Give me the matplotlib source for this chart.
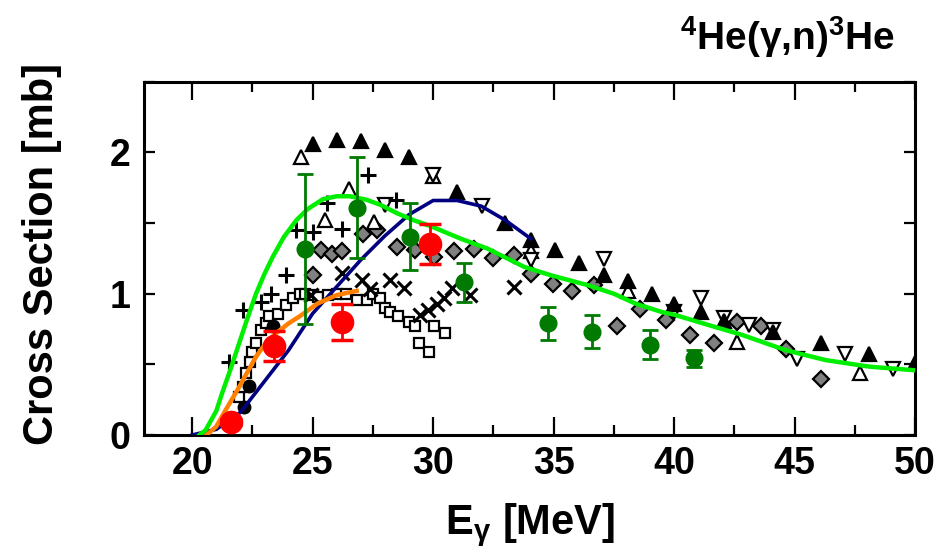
import matplotlib
matplotlib.use("Agg")
import matplotlib.pyplot as plt
import numpy as np
from matplotlib.ticker import MultipleLocator

plt.rcParams['font.family'] = ['Liberation Sans', 'DejaVu Sans']
plt.rcParams['font.weight'] = 'bold'
plt.rcParams['mathtext.fontset'] = 'custom'
plt.rcParams['mathtext.rm'] = 'Liberation Sans:bold'
plt.rcParams['mathtext.bf'] = 'Liberation Sans:bold'
plt.rcParams['mathtext.it'] = 'Liberation Sans:bold'

# filled up triangles
tri_f_x = [25, 26, 27, 28, 29, 31, 33, 34.05, 35.05, 36.05, 37.1, 38.1, 39.1, 40.0, 41.1, 42.06, 44.1, 46.1, 48.1, 50.0]
tri_f_y = [2.06, 2.09, 2.08, 2.02, 1.97, 1.72, 1.50, 1.38, 1.31, 1.22, 1.13, 1.09, 1.00, 0.93, 0.87, 0.81, 0.73, 0.65, 0.57, 0.51]

# open up triangles
tri_o_x = [24.5, 25.5, 26.5, 27.55, 30.0, 34.05, 38.1, 42.6, 47.7]
tri_o_y = [1.97, 1.52, 1.74, 1.51, 1.83, 1.30, 1.02, 0.66, 0.44]

# open down triangles
tri_d_x = [28.0, 30.0, 32.04, 34.05, 37.1, 40.0, 41.1, 42.06, 43.1, 44.1, 45.1, 47.1, 49.1]
tri_d_y = [1.63, 1.84, 1.62, 1.24, 1.245, 0.87, 0.97, 0.825, 0.78, 0.74, 0.54, 0.57, 0.47]

# gray diamonds
dia_x = [25.0, 25.36, 25.8, 26.2, 27.1, 27.66, 28.5, 29.26, 30.05, 30.86, 31.7, 32.5, 33.34, 34.05,
         34.96, 35.76, 36.68, 37.65, 38.6, 39.65, 40.67, 41.64, 42.6, 43.6, 44.64, 46.1]
dia_y = [1.13, 1.31, 1.28, 1.30, 1.42, 1.45, 1.33, 1.31, 1.26, 1.30, 1.32, 1.25, 1.275, 1.14,
         1.07, 1.02, 1.06, 0.77, 0.89, 0.815, 0.71, 0.65, 0.80, 0.77, 0.61, 0.395]

# open squares
sq_x = [21.95, 22.09, 22.23, 22.4, 22.5, 22.65, 22.86, 23.05, 23.2, 23.55, 23.9, 24.18, 24.46, 24.67,
        25.0, 25.22, 25.64, 26.0, 26.4, 26.83, 27.24, 27.5, 27.8, 28.0, 28.2, 28.56, 28.98, 29.26,
        29.4, 29.82, 30.03, 30.5]
sq_y = [0.27, 0.34, 0.44, 0.52, 0.59, 0.65, 0.74, 0.79, 0.84, 0.86, 0.92, 0.97, 1.00, 1.00,
        0.99, 0.98, 0.99, 1.00, 1.00, 0.955, 0.955, 1.00, 0.97, 0.90, 0.87, 0.84, 0.80, 0.77,
        0.65, 0.59, 0.77, 0.72]

# plus markers
plus_x = [21.54, 22.09, 22.86, 23.27, 23.9, 24.32, 25.0, 25.6, 26.2, 27.31, 28.47]
plus_y = [0.52, 0.886, 0.945, 1.00, 1.13, 1.45, 1.44, 1.64, 1.46, 1.84, 1.665]

# cross markers
cross_x = [24.94, 26.2, 27.03, 27.38, 28.2, 28.78, 29.45, 29.8, 30.17, 30.44, 30.79, 31.55, 33.36]
cross_y = [0.99, 1.146, 1.10, 1.03, 1.10, 1.04, 0.85, 0.886, 0.93, 0.97, 1.04, 0.99, 1.05]

# small black dots
dot_x = [22.17, 22.35, 23.35]
dot_y = [0.20, 0.35, 0.77]

# green data with errors
grn_x = [24.67, 26.83, 29.02, 31.28, 34.76, 36.6, 39.0, 40.83]
grn_y = [1.316, 1.61, 1.405, 1.08, 0.79, 0.73, 0.64, 0.544]
grn_e = [0.53, 0.36, 0.24, 0.135, 0.115, 0.117, 0.10, 0.06]

# red data with errors
red_x = [21.6, 23.38, 26.23, 29.88]
red_y = [0.094, 0.63, 0.80, 1.354]
red_e = [0.02, 0.105, 0.125, 0.14]

# calculations
navy_x = [20, 21, 22, 23, 24, 25, 26, 27, 28, 29, 30, 31, 32, 33, 34.05]
navy_y = [0.0, 0.04, 0.16, 0.38, 0.60, 0.86, 1.05, 1.24, 1.41, 1.56, 1.66, 1.66, 1.62, 1.52, 1.39]

lime_x = [20.3, 20.56, 21.0, 21.25, 21.6, 21.95, 22.3, 22.65, 23.0, 23.34, 23.8, 24.32, 24.8, 25.43,
          26.0, 26.54, 27.24, 27.8, 28.5, 29.2, 29.95, 31.14, 32.25, 33.78, 34.9, 36.43, 37.5,
          38.4, 39.5, 40.04, 41.4, 42.8, 44.64, 46.3, 48.1, 50.0]
lime_y = [0.0, 0.035, 0.17, 0.30, 0.47, 0.65, 0.83, 1.0, 1.14, 1.26, 1.40, 1.52, 1.60, 1.67,
          1.69, 1.69, 1.665, 1.63, 1.57, 1.52, 1.475, 1.39, 1.32, 1.19, 1.13, 1.06, 1.0,
          0.93, 0.87, 0.85, 0.78, 0.71, 0.60, 0.53, 0.484, 0.458]

orange_x = [20.6, 21.0, 21.4, 21.95, 22.65, 23.1, 23.48, 24.0, 24.46, 25.2, 25.99, 26.83]
orange_y = [0.0, 0.06, 0.18, 0.34, 0.555, 0.66, 0.72, 0.79, 0.84, 0.93, 0.99, 1.02]

fig = plt.figure(figsize=(9.43, 5.53), dpi=100)
ax = fig.add_axes([0.1527, 0.2134, 0.8176, 0.6386])

mk = dict(linestyle='none', markeredgecolor='black', markeredgewidth=1.6)
ax.plot(sq_x, sq_y, marker='s', markersize=7.5, markerfacecolor='white', zorder=2, **mk)
ax.plot(dia_x, dia_y, marker='D', markersize=8, markerfacecolor='#808080', zorder=2, **mk)
ax.plot(tri_o_x, tri_o_y, marker='^', markersize=10, markerfacecolor='white', zorder=2, **mk)
ax.plot(tri_d_x, tri_d_y, marker='v', markersize=10, markerfacecolor='white', zorder=2, **mk)
ax.plot(tri_f_x, tri_f_y, marker='^', markersize=10, markerfacecolor='black', zorder=2, **mk)
ax.plot(plus_x, plus_y, marker='+', markersize=11, markeredgewidth=2.2, color='black',
        linestyle='none', zorder=2)
ax.plot(cross_x, cross_y, marker='x', markersize=10.5, markeredgewidth=2.2, color='black',
        linestyle='none', zorder=2)
ax.plot(dot_x, dot_y, marker='o', markersize=9, color='black', linestyle='none', zorder=2)

ax.plot(navy_x, navy_y, color='#000080', lw=2.6, zorder=3)
ax.plot(lime_x, lime_y, color='#00ee00', lw=3.2, zorder=3)
ax.plot(orange_x, orange_y, color='#ff8000', lw=3.2, zorder=3)

ax.errorbar(grn_x, grn_y, yerr=grn_e, fmt='o', color='#007a00', markersize=12,
            elinewidth=2, capsize=6, capthick=2, zorder=4)
ax.errorbar(red_x, red_y, yerr=red_e, fmt='o', color='#ff0000', markersize=16,
            elinewidth=2, capsize=8, capthick=2.5, zorder=5)

ax.set_xlim(18, 50)
ax.set_ylim(0, 2.5)
ax.xaxis.set_major_locator(MultipleLocator(5))
ax.xaxis.set_minor_locator(MultipleLocator(2.5))
ax.yaxis.set_major_locator(MultipleLocator(1))
ax.yaxis.set_minor_locator(MultipleLocator(0.5))
ax.tick_params(axis='both', which='both', direction='in', top=True, right=True, width=1.6)
ax.tick_params(axis='x', which='major', length=13, pad=8, labelsize=27)
ax.tick_params(axis='x', which='minor', length=7)
ax.tick_params(axis='y', which='both', length=8, pad=10, labelsize=27)
for s in ax.spines.values():
    s.set_linewidth(2.2)

fig.text(0.562, 0.05, r'$\mathbf{E_{\gamma}}$ [MeV]', ha='center', va='center',
         fontsize=30, fontweight='bold')
fig.text(0.045, 0.54, 'Cross Section [mb]', rotation=90, ha='center', va='center',
         fontsize=30, fontweight='bold')
fig.text(0.835, 0.933, r'$\mathbf{^{4}He(\gamma{,}n)^{3}He}$', ha='center', va='center',
         fontsize=28)

fig.savefig('out.png', dpi=100)
